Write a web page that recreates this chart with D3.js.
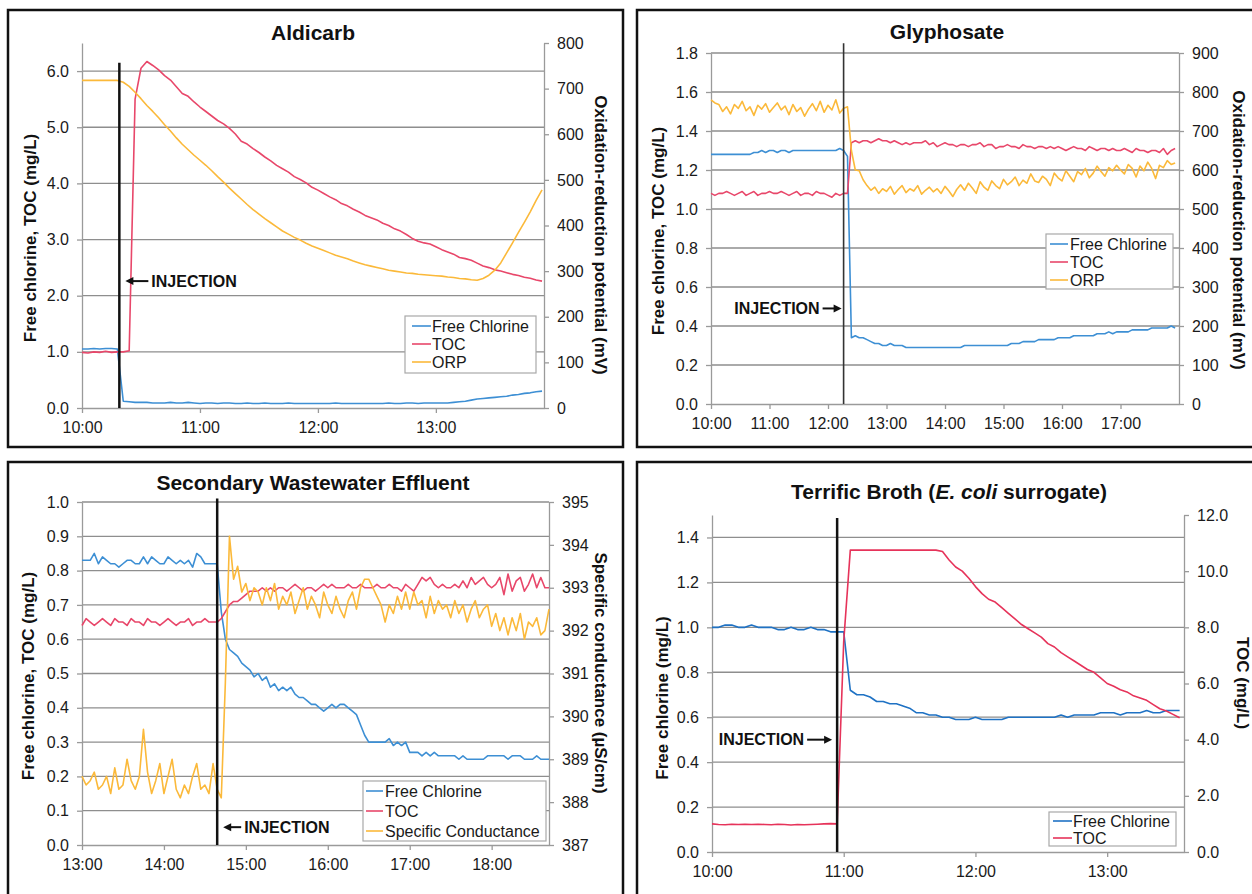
<!DOCTYPE html>
<html>
<head>
<meta charset="utf-8">
<script src="https://cdn.jsdelivr.net/npm/d3@7"></script>
<style>
body { margin: 0; background: #fff; }
svg { display: block; }
</style>
</head>
<body>
<svg id="plot-space" width="1252" height="894"></svg>
<script>
// ---- data ----
// every series is sampled on a fixed grid: start time + i * step minutes

// Aldicarb (step 3 min from 10:00)
const aldicarbStart = "10:00", aldicarbStep = 3;
const aldicarbChlorine = [1.05,1.05,1.06,1.05,1.06,1.06,1.05,
	0.12,0.11,0.10,0.10,0.10,0.09,0.09,0.09,0.10,0.09,0.09,0.10,0.09,
	0.08,0.09,0.09,0.08,0.09,0.09,0.08,0.08,0.09,0.08,0.08,0.09,0.08,0.08,0.08,0.09,0.08,0.08,0.08,0.08,
	0.08,0.08,0.08,0.09,0.08,0.08,0.08,0.08,0.08,0.08,0.08,0.08,0.09,0.08,0.08,0.09,0.09,0.08,0.09,0.09,
	0.09,0.09,0.09,0.10,0.11,0.12,0.14,0.16,0.17,0.18,0.19,0.20,0.21,0.23,0.24,0.26,0.27,0.29,0.30];
const aldicarbToc = [0.99,0.98,1.00,0.99,1.01,0.99,1.00,
	1.00,1.02,5.50,6.05,6.17,6.10,6.02,5.92,5.84,5.72,5.60,5.55,5.45,
	5.36,5.28,5.20,5.12,5.06,4.98,4.88,4.75,4.70,4.62,4.55,4.47,4.40,4.32,4.26,4.20,4.12,4.07,4.01,3.93,
	3.88,3.82,3.76,3.71,3.64,3.60,3.54,3.49,3.43,3.39,3.35,3.29,3.25,3.19,3.15,3.09,3.02,2.97,2.94,2.92,
	2.87,2.82,2.78,2.74,2.68,2.66,2.63,2.58,2.53,2.50,2.46,2.44,2.41,2.38,2.36,2.33,2.31,2.28,2.26];
const aldicarbOrp = [718,718,718,718,718,718,718,
	714,705,692,678,663,650,636,621,607,592,578,566,554,
	543,532,520,507,495,482,470,458,446,435,425,415,406,397,388,381,374,368,361,355,
	350,345,340,335,331,327,322,318,314,311,308,305,302,300,298,296,295,293,292,291,
	290,289,287,286,284,283,281,280,284,291,302,318,340,362,385,407,430,455,478];
const aldicarbLeftTicks = [0,1,2,3,4,5,6];
const aldicarbRightTicks = [0,100,200,300,400,500,600,700,800];
const aldicarbHours = ["10:00","11:00","12:00","13:00"];

// Glyphosate (step 4 min from 10:00)
const glyStart = "10:00", glyStep = 4;
const glyChlorine = [1.28,1.28,1.28,1.28,1.28,1.28,1.28,1.28,1.28,1.28,
	1.28,1.29,1.29,1.30,1.29, 1.30,1.30,1.29,1.30,1.30, 1.29,1.30,1.30,1.30,1.30, 1.30,1.30,1.30,1.30,1.30,
	1.30,1.30,1.30,1.31,1.30, 1.27,0.34,0.35,0.34,0.34, 0.33,0.32,0.31,0.31,0.30, 0.30,0.31,0.30,0.30,0.30,
	0.29,0.29,0.29,0.29,0.29, 0.29,0.29,0.29,0.29,0.29, 0.29,0.29,0.29,0.29,0.29, 0.30,0.30,0.30,0.30,0.30,
	0.30,0.30,0.30,0.30,0.30, 0.30,0.30,0.31,0.31,0.31, 0.32,0.32,0.32,0.32,0.33, 0.33,0.33,0.33,0.33,0.34,
	0.34,0.34,0.34,0.35,0.35, 0.35,0.35,0.35,0.35,0.36, 0.36,0.36,0.37,0.36,0.37, 0.37,0.37,0.37,0.38,0.38,
	0.38,0.38,0.38,0.39,0.39, 0.39,0.39,0.39,0.40,0.39];
const glyToc = [1.08,1.07,1.08,1.08,1.09,1.08,1.07,1.08,1.09,1.07,
	1.08,1.09,1.07,1.08,1.08,1.09,1.08,1.08,1.09,1.08,
	1.07,1.08,1.09,1.07,1.08,1.08,1.07,1.09,1.08,1.08,
	1.07,1.06,1.08,1.07,1.08,1.08,
	1.34,1.35,1.34,1.35, 1.35,1.34,1.35,1.36,1.35, 1.35,1.34,1.35,1.34,1.33, 1.34,1.33,1.34,1.34,1.34,
	1.35,1.33,1.34,1.32,1.33, 1.34,1.33,1.33,1.32,1.33, 1.33,1.32,1.33,1.33,1.34, 1.32,1.33,1.33,1.31,1.32,
	1.32,1.33,1.32,1.32,1.31, 1.33,1.32,1.32,1.31,1.32, 1.32,1.31,1.32,1.31,1.32, 1.31,1.30,1.31,1.32,1.31,
	1.31,1.30,1.32,1.31,1.30, 1.31,1.31,1.30,1.31,1.30, 1.30,1.31,1.30,1.29,1.31, 1.30,1.30,1.29,1.30,1.30,
	1.29,1.31,1.28,1.30,1.31];
const glyOrp = [780,772,768,750,762, 744,768,758,776,752, 762,740,766,756,770, 748,760,772,754,764,
	742,768,750,760,738, 756,770,752,776,748, 766,754,780,746,758, 762,650,600,598,575,
	560,548,556,540,552, 545,558,538,550,560, 542,552,546,560,538, 548,556,544,552,540,
	558,546,532,550,562, 548,566,554,540,570, 556,548,572,560,552, 576,562,570,582,560,
	574,566,590,572,568, 584,576,560,592,580, 572,598,584,570,596, 588,604,580,592,610,
	596,584,606,598,612, 600,590,614,604,582, 610,598,620,604,578, 612,606,624,614,618];
const glyLeftTicks = [0,0.2,0.4,0.6,0.8,1.0,1.2,1.4,1.6,1.8];
const glyRightTicks = [0,100,200,300,400,500,600,700,800,900];
const glyHours = ["10:00","11:00","12:00","13:00","14:00","15:00","16:00","17:00"];

// Secondary wastewater effluent (step 3 min from 13:00)
const wwStart = "13:00", wwStep = 3;
const wwChlorine = [0.83,0.83,0.83,0.85,0.82, 0.84,0.83,0.82,0.82,0.81, 0.82,0.83,0.83,0.82,0.82,
	0.84,0.82,0.84,0.83,0.82, 0.82,0.84,0.83,0.82,0.83, 0.82,0.83,0.81,0.85,0.84, 0.82,0.82,0.82,0.82,0.68,
	0.60,0.57,0.56,0.55,0.53, 0.52,0.51,0.49,0.50,0.48, 0.49,0.46,0.47,0.45,0.46, 0.45,0.46,0.44,0.43,0.43,
	0.42,0.41,0.41,0.40,0.39, 0.40,0.41,0.40,0.41,0.41, 0.40,0.39,0.38,0.35,0.32, 0.30,0.30,0.30,0.30,0.30,
	0.31,0.29,0.30,0.29,0.30, 0.27,0.27,0.27,0.26,0.27, 0.26,0.27,0.26,0.26,0.26, 0.26,0.26,0.25,0.26,0.25,
	0.25,0.25,0.25,0.25,0.26, 0.26,0.26,0.26,0.26,0.25, 0.26,0.26,0.26,0.25,0.25, 0.25,0.26,0.25,0.25,0.25];
const wwToc = [0.64,0.66,0.65,0.64,0.65, 0.66,0.65,0.64,0.66,0.65, 0.65,0.64,0.66,0.65,0.65,
	0.64,0.66,0.65,0.65,0.64, 0.65,0.66,0.65,0.64,0.65, 0.65,0.66,0.64,0.65,0.65, 0.66,0.65,0.65,0.65,0.66,
	0.68,0.70,0.71,0.71,0.72, 0.73,0.74,0.74,0.74,0.75, 0.74,0.75,0.74,0.75,0.75, 0.74,0.75,0.76,0.75,0.74,
	0.75,0.75,0.74,0.75,0.76, 0.75,0.76,0.75,0.75,0.75, 0.76,0.75,0.75,0.76,0.75, 0.75,0.75,0.76,0.75,0.75,
	0.76,0.75,0.75,0.74,0.76, 0.75,0.74,0.76,0.78,0.77, 0.78,0.76,0.75,0.76,0.75, 0.75,0.76,0.75,0.77,0.75,
	0.78,0.76,0.77,0.78,0.76, 0.75,0.76,0.78,0.73,0.79, 0.74,0.77,0.78,0.74,0.76, 0.79,0.75,0.78,0.75,0.75];
const wwConductance = [388.6,388.4,388.5,388.7,388.3, 388.4,388.6,388.2,388.8,388.3, 388.4,389.0,388.5,388.3,388.6,
	389.7,388.7,388.2,388.5,388.9, 388.2,388.6,389.0,388.3,388.1, 388.4,388.2,388.6,388.9,388.3,
	388.4,388.2,388.9,388.3,388.1, 390.8,394.2,393.2,393.5,392.9,
	393.1,392.7,393.0,392.9,392.6, 393.0,392.7,393.1,392.5,392.8, 392.6,392.9,392.4,392.7,393.0,
	392.5,392.8,392.6,392.3,392.9, 392.6,392.4,392.8,392.5,392.3, 392.7,392.9,392.5,393.0,393.2,
	393.2,393.0,392.8,392.6,392.2, 392.6,392.4,392.8,392.5,392.9, 392.5,392.9,392.6,392.7,392.3,
	392.8,392.4,392.7,392.5,392.6, 392.3,392.7,392.4,392.6,392.2, 392.5,392.7,392.3,392.5,392.6,
	392.1,392.4,392.0,392.3,391.9, 392.3,392.0,392.4,391.8,392.2, 392.1,392.3,391.9,392.0,392.5];
const wwLeftTicks = [0,0.1,0.2,0.3,0.4,0.5,0.6,0.7,0.8,0.9,1.0];
const wwRightTicks = [387,388,389,390,391,392,393,394,395];
const wwHours = ["13:00","14:00","15:00","16:00","17:00","18:00"];

// Terrific broth (step 3 min from 10:00)
const tbStart = "10:00", tbStep = 3;
const tbChlorine = [1.00,1.00,1.01,1.01,1.00, 1.00,1.01,1.00,1.00,1.00, 0.99,0.99,1.00,0.99,0.99,
	1.00,0.99,0.99,0.98,0.98, 0.98,0.72,0.70,0.70,0.69, 0.67,0.67,0.66,0.66,0.65, 0.64,0.62,0.62,0.61,0.61,
	0.60,0.60,0.59,0.59,0.59, 0.60,0.59,0.59,0.59,0.59, 0.60,0.60,0.60,0.60,0.60, 0.60,0.60,0.60,0.61,0.60,
	0.61,0.61,0.61,0.61,0.62, 0.62,0.62,0.61,0.62,0.62, 0.62,0.63,0.62,0.62,0.63, 0.63,0.63];
const tbToc = [1.00,0.98,0.97,0.99,0.98, 0.99,0.98,0.99,0.98,0.97, 0.99,0.98,0.96,0.98,0.97,
	0.98,0.99,1.00,1.01,1.00, 7.5,10.75,10.75,10.75,10.75, 10.75,10.75,10.75,10.75,10.75, 10.75,10.75,10.75,10.75,10.75,
	10.7,10.4,10.15,10.0,9.75, 9.45,9.2,9.0,8.9,8.7, 8.5,8.3,8.1,7.95,7.8, 7.65,7.42,7.3,7.1,6.95,
	6.8,6.65,6.5,6.4,6.2, 6.0,5.9,5.78,5.7,5.56, 5.48,5.4,5.25,5.1,5.02, 4.9,4.78];
const tbLeftTicks = [0,0.2,0.4,0.6,0.8,1.0,1.2,1.4];
const tbRightTicks = [0,2,4,6,8,10,12];
const tbHours = ["10:00","11:00","12:00","13:00"];

// ---- drawing ----
const FONT = "'Liberation Sans', Arial, Helvetica, sans-serif";
const BLUE = "#3d8fd4", RED = "#e8476a", YELLOW = "#fbb93a";
const parseTime = d3.timeParse("%H:%M");
const hourFmt = d3.timeFormat("%H:%M");
const svg = d3.select("#plot-space").attr("font-family", FONT);

function toPoints(start, step, values) {
	const t0 = parseTime(start);
	return values.map((v, i) => ({t: d3.timeMinute.offset(t0, i * step), v: v}));
}

function drawPanel(p) {
	const g = svg.append("g");

	const x = d3.scaleTime().domain([parseTime(p.xDomain[0]), parseTime(p.xDomain[1])]).range([p.left, p.right]);
	const yL = d3.scaleLinear().domain(p.leftDomain).range([p.bottom, p.top]);
	const yR = d3.scaleLinear().domain(p.rightDomain).range([p.bottom, p.top]);

	// gridlines at left ticks
	g.append("g").selectAll("line")
	 .data(p.leftTicks.filter(d => d > 0))
	 .join("line")
	 .attr("x1", p.left).attr("x2", p.right)
	 .attr("y1", d => yL(d)).attr("y2", d => yL(d))
	 .attr("stroke", "#8e8e8e").attr("stroke-width", 1.3);

	const axL = g.append("g").attr("transform", `translate(${p.left},0)`)
		.call(d3.axisLeft(yL).tickValues(p.leftTicks).tickFormat(d3.format(p.leftFormat)).tickSize(5).tickSizeOuter(0).tickPadding(8));
	const axR = g.append("g").attr("transform", `translate(${p.right},0)`)
		.call(d3.axisRight(yR).tickValues(p.rightTicks).tickFormat(d3.format(p.rightFormat)).tickSize(5).tickSizeOuter(0).tickPadding(8));
	const axB = g.append("g").attr("transform", `translate(0,${p.bottom})`)
		.call(d3.axisBottom(x).tickValues(p.hours.map(parseTime)).tickFormat(hourFmt).tickSize(5).tickSizeOuter(0).tickPadding(9));
	[axL, axR, axB].forEach(a => {
		a.attr("font-family", FONT).attr("font-size", 16);
		a.select(".domain").attr("stroke", "#9a9a9a").attr("stroke-width", 1.3);
		a.selectAll(".tick line").attr("stroke", "#9a9a9a").attr("stroke-width", 1.3);
		a.selectAll(".tick text").attr("fill", "#1a1a1a");
	});

	// series
	p.series.forEach(s => {
		const y = s.axis === "right" ? yR : yL;
		const line = d3.line().x(d => x(d.t)).y(d => y(d.v));
		g.append("path").attr("d", line(s.points))
		 .attr("fill", "none").attr("stroke", s.color)
		 .attr("stroke-width", 1.6).attr("stroke-linejoin", "round");
	});

	// injection marker
	const inj = p.injection;
	const xi = x(parseTime(inj.time));
	g.append("line").attr("x1", xi).attr("x2", xi)
	 .attr("y1", yL(inj.top)).attr("y2", yL(0))
	 .attr("stroke", inj.color).attr("stroke-width", inj.width);

	const ay = yL(inj.labelAt);
	const dir = inj.side === "right" ? 1 : -1;
	const tip = xi + dir * inj.gap;
	const tail = tip + dir * inj.arrow;
	g.append("line").attr("x1", tail).attr("x2", tip + dir * 6).attr("y1", ay).attr("y2", ay)
	 .attr("stroke", "#111").attr("stroke-width", 2);
	g.append("path")
	 .attr("d", `M${tip},${ay} L${tip + dir * 8},${ay - 4} L${tip + dir * 8},${ay + 4} Z`)
	 .attr("fill", "#111");
	g.append("text").attr("x", tail + dir * 3).attr("y", ay)
	 .attr("text-anchor", dir > 0 ? "start" : "end").attr("dominant-baseline", "central")
	 .attr("font-size", 16).attr("font-weight", "bold").attr("fill", "#111")
	 .text("INJECTION");

	// legend
	const L = p.legend;
	g.append("rect").attr("x", L.x).attr("y", L.y).attr("width", L.w).attr("height", L.h)
	 .attr("fill", "#fff").attr("stroke", "#a8a8a8").attr("stroke-width", 1.2);
	p.series.forEach((s, i) => {
		const ry = L.rows[i];
		g.append("line").attr("x1", L.x + L.line[0]).attr("x2", L.x + L.line[1]).attr("y1", ry).attr("y2", ry)
		 .attr("stroke", s.color).attr("stroke-width", 1.6);
		g.append("text").attr("x", L.x + L.textX).attr("y", ry).attr("dominant-baseline", "central")
		 .attr("font-size", 16).attr("fill", "#1a1a1a").text(s.label);
	});

	// titles
	const t = g.append("text").attr("x", p.titlePos[0]).attr("y", p.titlePos[1])
		.attr("text-anchor", "middle").attr("font-size", 21).attr("font-weight", "bold").attr("fill", "#111");
	p.title.forEach(part => t.append("tspan").attr("font-style", part[1] ? "italic" : null).text(part[0]));

	g.append("text").attr("transform", `translate(${p.leftTitlePos[0]},${p.leftTitlePos[1]}) rotate(-90)`)
	 .attr("text-anchor", "middle").attr("dominant-baseline", "central")
	 .attr("font-size", 17).attr("font-weight", "bold").attr("fill", "#111").text(p.leftTitle);
	g.append("text").attr("transform", `translate(${p.rightTitlePos[0]},${p.rightTitlePos[1]}) rotate(90)`)
	 .attr("text-anchor", "middle").attr("dominant-baseline", "central")
	 .attr("font-size", 17).attr("font-weight", "bold").attr("fill", "#111").text(p.rightTitle);

	// frame
	g.append("rect").attr("x", p.frame[0]).attr("y", p.frame[1]).attr("width", p.frame[2]).attr("height", p.frame[3])
	 .attr("fill", "none").attr("stroke", "#111").attr("stroke-width", 2.5);
}

svg.append("rect").attr("width", 1252).attr("height", 894).attr("fill", "#fff");

drawPanel({
	frame: [8, 10, 615, 437],
	left: 82, right: 544, top: 43, bottom: 408,
	xDomain: ["10:00", "13:55"], hours: aldicarbHours,
	leftDomain: [0, 6.5], leftTicks: aldicarbLeftTicks, leftFormat: ".1f",
	rightDomain: [0, 800], rightTicks: aldicarbRightTicks, rightFormat: "d",
	series: [
		{label: "Free Chlorine", color: BLUE, axis: "left", points: toPoints(aldicarbStart, aldicarbStep, aldicarbChlorine)},
		{label: "TOC", color: RED, axis: "left", points: toPoints(aldicarbStart, aldicarbStep, aldicarbToc)},
		{label: "ORP", color: YELLOW, axis: "right", points: toPoints(aldicarbStart, aldicarbStep, aldicarbOrp)}
	],
	injection: {time: "10:19", top: 6.15, labelAt: 2.26, side: "right", gap: 6, arrow: 23, color: "#111", width: 2.5},
	legend: {x: 405, y: 316, w: 131, h: 57, rows: [326, 344, 362], line: [7, 26], textX: 27},
	title: [["Aldicarb", false]], titlePos: [313, 40],
	leftTitle: "Free chlorine, TOC (mg/L)", leftTitlePos: [30, 238],
	rightTitle: "Oxidation-reduction potential (mV)", rightTitlePos: [600, 235]
});

drawPanel({
	frame: [637, 10, 630, 437],
	left: 711, right: 1179, top: 53, bottom: 404,
	xDomain: ["10:00", "18:00"], hours: glyHours,
	leftDomain: [0, 1.8], leftTicks: glyLeftTicks, leftFormat: ".1f",
	rightDomain: [0, 900], rightTicks: glyRightTicks, rightFormat: "d",
	series: [
		{label: "Free Chlorine", color: BLUE, axis: "left", points: toPoints(glyStart, glyStep, glyChlorine)},
		{label: "TOC", color: RED, axis: "left", points: toPoints(glyStart, glyStep, glyToc)},
		{label: "ORP", color: YELLOW, axis: "right", points: toPoints(glyStart, glyStep, glyOrp)}
	],
	injection: {time: "12:16", top: 1.85, labelAt: 0.49, side: "left", gap: 2, arrow: 19, color: "#333", width: 1.6},
	legend: {x: 1046, y: 234, w: 127, h: 55, rows: [244, 262, 280], line: [4, 22], textX: 24},
	title: [["Glyphosate", false]], titlePos: [947, 39],
	leftTitle: "Free chlorine, TOC (mg/L)", leftTitlePos: [658, 231],
	rightTitle: "Oxidation-reduction potential (mV)", rightTitlePos: [1238, 230]
});

drawPanel({
	frame: [8, 462, 615, 445],
	left: 82, right: 549, top: 502, bottom: 845,
	xDomain: ["13:00", "18:42"], hours: wwHours,
	leftDomain: [0, 1], leftTicks: wwLeftTicks, leftFormat: ".1f",
	rightDomain: [387, 395], rightTicks: wwRightTicks, rightFormat: "d",
	series: [
		{label: "Free Chlorine", color: BLUE, axis: "left", points: toPoints(wwStart, wwStep, wwChlorine)},
		{label: "TOC", color: RED, axis: "left", points: toPoints(wwStart, wwStep, wwToc)},
		{label: "Specific Conductance", color: YELLOW, axis: "right", points: toPoints(wwStart, wwStep, wwConductance)}
	],
	injection: {time: "14:39", top: 1.01, labelAt: 0.052, side: "right", gap: 6, arrow: 18, color: "#111", width: 2.5},
	legend: {x: 363, y: 781, w: 183, h: 60, rows: [791, 811, 831], line: [3, 20], textX: 22},
	title: [["Secondary Wastewater Effluent", false]], titlePos: [313, 490],
	leftTitle: "Free chlorine, TOC (mg/L)", leftTitlePos: [28, 676],
	rightTitle: "Specific conductance (µS/cm)", rightTitlePos: [600, 673]
});

drawPanel({
	frame: [637, 462, 630, 445],
	left: 712, right: 1184, top: 515, bottom: 852,
	xDomain: ["10:00", "13:35"], hours: tbHours,
	leftDomain: [0, 1.5], leftTicks: tbLeftTicks, leftFormat: ".1f",
	rightDomain: [0, 12], rightTicks: tbRightTicks, rightFormat: ".1f",
	series: [
		{label: "Free Chlorine", color: "#1f72c4", axis: "left", points: toPoints(tbStart, tbStep, tbChlorine)},
		{label: "TOC", color: "#e6335a", axis: "right", points: toPoints(tbStart, tbStep, tbToc)}
	],
	injection: {time: "10:57", top: 1.487, labelAt: 0.5, side: "left", gap: 5, arrow: 25, color: "#111", width: 2.5},
	legend: {x: 1049, y: 812, w: 127, h: 34, rows: [821, 838], line: [4, 23], textX: 24},
	title: [["Terrific Broth (", false], ["E. coli", true], [" surrogate)", false]], titlePos: [949, 499],
	leftTitle: "Free chlorine (mg/L)", leftTitlePos: [662, 698],
	rightTitle: "TOC (mg/L)", rightTitlePos: [1242, 683]
});
</script>
</body>
</html>
